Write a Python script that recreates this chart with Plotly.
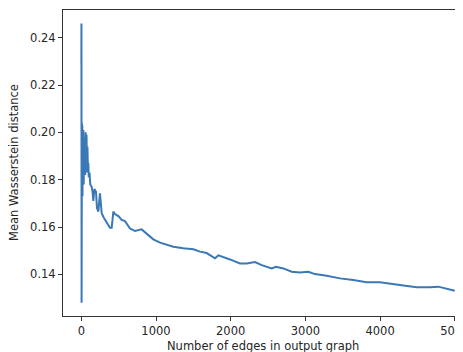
import plotly.graph_objects as go

# Number of edges in output graph (x) and mean Wasserstein distance (y)
edges = [1, 2, 3, 4, 6, 8, 10, 13, 16, 20, 24, 28, 32, 37, 42, 47, 52, 58, 64, 70,
         76, 82, 88, 94, 100, 110, 120, 139, 150, 161, 175, 197, 210, 228, 250, 273,
         300, 340, 384, 407, 429, 450, 473, 500, 540, 585, 652, 719, 808, 875, 964,
         1054, 1143, 1232, 1366, 1500, 1589, 1678, 1790, 1835, 1991, 2124, 2214, 2325,
         2415, 2549, 2606, 2704, 2817, 2928, 3039, 3128, 3285, 3463, 3641, 3820, 3999,
         4155, 4311, 4490, 4668, 4779, 4891, 5000]
wasserstein = [0.229, 0.246, 0.205, 0.128, 0.185, 0.204, 0.175, 0.203, 0.173, 0.199,
               0.182, 0.201, 0.178, 0.196, 0.184, 0.198, 0.182, 0.200, 0.185, 0.199,
               0.183, 0.194, 0.185, 0.187, 0.181, 0.183, 0.178, 0.177, 0.175, 0.171,
               0.176, 0.1749, 0.168, 0.1665, 0.1742, 0.1658, 0.164, 0.1622, 0.1597,
               0.1597, 0.1665, 0.1655, 0.165, 0.1645, 0.1630, 0.1625, 0.1594, 0.1583,
               0.159, 0.1573, 0.1548, 0.1534, 0.1524, 0.1517, 0.151, 0.1506, 0.1496,
               0.149, 0.1468, 0.148, 0.1463, 0.1446, 0.1446, 0.1452, 0.1439, 0.1425,
               0.1432, 0.1425, 0.1411, 0.1408, 0.1411, 0.1401, 0.1394, 0.1383, 0.1376,
               0.1367, 0.1367, 0.1359, 0.1353, 0.1346, 0.1345, 0.1348, 0.1339, 0.1331]

x_ticks = [0, 1000, 2000, 3000, 4000, 5000]
y_ticks = [0.14, 0.16, 0.18, 0.20, 0.22, 0.24]

fig = go.Figure()
fig.add_trace(go.Scatter(x=edges, y=wasserstein, mode="lines",
                         line=dict(color="#3a78b6", width=2), showlegend=False))

font = dict(family="DejaVu Sans", size=11.5, color="#262626")
# page body has an 8px default margin, so the figure is 455x344 and offset by 8px
fig.update_layout(
    width=455, height=344,
    margin=dict(l=55, r=0, t=2, b=36, autoexpand=False),
    paper_bgcolor="white", plot_bgcolor="white",
    font=font,
    annotations=[
        dict(text="Number of edges in output graph", xref="paper", yref="paper",
             x=0.5, y=-0.098, xanchor="center", yanchor="middle", showarrow=False, font=font),
        dict(text="Mean Wasserstein distance", xref="paper", yref="paper",
             x=-0.1225, y=0.5, xanchor="center", yanchor="middle", textangle=-90,
             showarrow=False, font=font),
    ],
)
fig.update_xaxes(
    range=[-245, 5110], tickvals=x_ticks, ticktext=[str(v) for v in x_ticks],
    showgrid=False, zeroline=False, showline=True, linecolor="#333333", linewidth=1,
    mirror=True, ticks="outside", ticklen=4, tickcolor="#333333",
    automargin=False, ticklabeloverflow="allow",
)
fig.update_yaxes(
    range=[0.1224, 0.2517], tickvals=y_ticks, ticktext=[f"{v:.2f}" for v in y_ticks],
    showgrid=False, zeroline=False, showline=True, linecolor="#333333", linewidth=1,
    ticks="outside", ticklen=4, tickcolor="#333333",
    automargin=False, ticklabeloverflow="allow",
)
fig.write_html("out.html")
